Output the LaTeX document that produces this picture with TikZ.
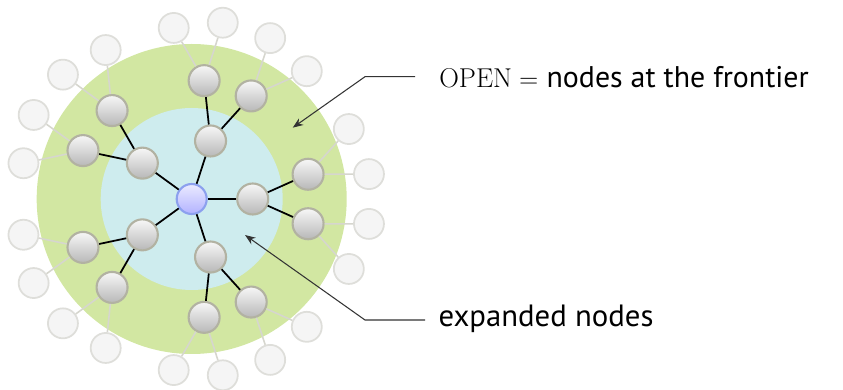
\documentclass[tikz,border=0pt]{standalone}
\usepackage{fontspec}
\usepackage{xcolor}
\usepackage{tikz}
\usetikzlibrary{arrows.meta, positioning}

\newfontfamily\labelfont{PT Sans}

\definecolor{ringgreen}{RGB}{210,231,162}
\definecolor{coreblue}{RGB}{206,236,238}
\definecolor{rootrim}{RGB}{140,160,238}
\definecolor{noderim}{RGB}{178,178,162}
\definecolor{fadedrim}{RGB}{222,222,218}
\definecolor{fadedline}{RGB}{214,214,206}

\begin{document}
\begin{tikzpicture}[
        >={Stealth[length=2.1mm, width=1.6mm]},
        root_node/.style={circle, minimum size=0.6cm, inner sep=0pt, draw=rootrim, line width=1.2pt,
            top color=blue!8, bottom color=blue!30!white},
        tree_node/.style={circle, minimum size=0.62cm, inner sep=0pt, draw=noderim, line width=1.2pt,
            top color=black!3, bottom color=black!28!white},
        faded_node/.style={circle, minimum size=0.6cm, inner sep=0pt, draw=fadedrim, line width=1pt,
            fill=black!4},
        tree_edge/.style={black, line width=1pt},
        faded_edge/.style={fadedline, line width=0.9pt},
        pointer/.style={->, black!80, line width=0.6pt},
        label/.style={anchor=base west, inner sep=0pt}
    ]

        \useasboundingbox (-3.834,-3.82) rectangle (13.026,3.98);

        % frontier ring and expanded region
        \fill[ringgreen] (0,0) circle (3.1);
        \fill[coreblue] (0,0) circle (1.82);

        \node[root_node] (root) at (0,0) {};

        % expanded nodes
        \node[tree_node] (n1) at (0:1.22) {};
        \node[tree_node] (n2) at (72:1.22) {};
        \node[tree_node] (n3) at (144:1.22) {};
        \node[tree_node] (n4) at (216:1.22) {};
        \node[tree_node] (n5) at (288:1.22) {};

        % frontier
        \node[tree_node] (n1a) at (12:2.38) {};
        \node[tree_node] (n1b) at (-12:2.38) {};
        \node[tree_node] (n2a) at (84:2.38) {};
        \node[tree_node] (n2b) at (60:2.38) {};
        \node[tree_node] (n3a) at (156:2.38) {};
        \node[tree_node] (n3b) at (132:2.38) {};
        \node[tree_node] (n4a) at (228:2.38) {};
        \node[tree_node] (n4b) at (204:2.38) {};
        \node[tree_node] (n5a) at (300:2.38) {};
        \node[tree_node] (n5b) at (276:2.38) {};

        % not generated yet
        \node[faded_node] (n1a1) at (24:3.44) {};
        \node[faded_node] (n1a2) at (8:3.58) {};
        \node[faded_node] (n1b1) at (-8:3.58) {};
        \node[faded_node] (n1b2) at (-24:3.44) {};
        \node[faded_node] (n2a1) at (96:3.44) {};
        \node[faded_node] (n2a2) at (80:3.58) {};
        \node[faded_node] (n2b1) at (64:3.58) {};
        \node[faded_node] (n2b2) at (48:3.44) {};
        \node[faded_node] (n3a1) at (168:3.44) {};
        \node[faded_node] (n3a2) at (152:3.58) {};
        \node[faded_node] (n3b1) at (136:3.58) {};
        \node[faded_node] (n3b2) at (120:3.44) {};
        \node[faded_node] (n4a1) at (240:3.44) {};
        \node[faded_node] (n4a2) at (224:3.58) {};
        \node[faded_node] (n4b1) at (208:3.58) {};
        \node[faded_node] (n4b2) at (192:3.44) {};
        \node[faded_node] (n5a1) at (312:3.44) {};
        \node[faded_node] (n5a2) at (296:3.58) {};
        \node[faded_node] (n5b1) at (280:3.58) {};
        \node[faded_node] (n5b2) at (264:3.44) {};

        \draw[tree_edge] (root) -- (n1);
        \draw[tree_edge] (root) -- (n2);
        \draw[tree_edge] (root) -- (n3);
        \draw[tree_edge] (root) -- (n4);
        \draw[tree_edge] (root) -- (n5);

        \draw[tree_edge] (n1) -- (n1a);
        \draw[tree_edge] (n1) -- (n1b);
        \draw[tree_edge] (n2) -- (n2a);
        \draw[tree_edge] (n2) -- (n2b);
        \draw[tree_edge] (n3) -- (n3a);
        \draw[tree_edge] (n3) -- (n3b);
        \draw[tree_edge] (n4) -- (n4a);
        \draw[tree_edge] (n4) -- (n4b);
        \draw[tree_edge] (n5) -- (n5a);
        \draw[tree_edge] (n5) -- (n5b);

        \draw[faded_edge] (n1a) -- (n1a1);
        \draw[faded_edge] (n1a) -- (n1a2);
        \draw[faded_edge] (n1b) -- (n1b1);
        \draw[faded_edge] (n1b) -- (n1b2);
        \draw[faded_edge] (n2a) -- (n2a1);
        \draw[faded_edge] (n2a) -- (n2a2);
        \draw[faded_edge] (n2b) -- (n2b1);
        \draw[faded_edge] (n2b) -- (n2b2);
        \draw[faded_edge] (n3a) -- (n3a1);
        \draw[faded_edge] (n3a) -- (n3a2);
        \draw[faded_edge] (n3b) -- (n3b1);
        \draw[faded_edge] (n3b) -- (n3b2);
        \draw[faded_edge] (n4a) -- (n4a1);
        \draw[faded_edge] (n4a) -- (n4a2);
        \draw[faded_edge] (n4b) -- (n4b1);
        \draw[faded_edge] (n4b) -- (n4b2);
        \draw[faded_edge] (n5a) -- (n5a1);
        \draw[faded_edge] (n5a) -- (n5a2);
        \draw[faded_edge] (n5b) -- (n5b1);
        \draw[faded_edge] (n5b) -- (n5b2);

        % callouts
        \node[label] (openlbl) at (4.946,2.234)
            {\fontsize{15.5}{19}\selectfont $\mathrm{OPEN} =$ {\fontsize{17}{20}\labelfont nodes at the frontier}};
        \coordinate (openend) at (4.466,2.446);
        \coordinate (openbend) at (3.466,2.446);
        \coordinate (opentip) at (2.02,1.426);
        \draw[pointer] (openend) -- (openbend) -- (opentip);

        \node[label] (donelbl) at (4.932,-2.554)
            {\fontsize{17.5}{20}\labelfont expanded nodes};
        \coordinate (doneend) at (4.666,-2.42);
        \coordinate (donebend) at (3.466,-2.42);
        \coordinate (donetip) at (1.066,-0.72);
        \draw[pointer] (doneend) -- (donebend) -- (donetip);

    \end{tikzpicture}
\end{document}
